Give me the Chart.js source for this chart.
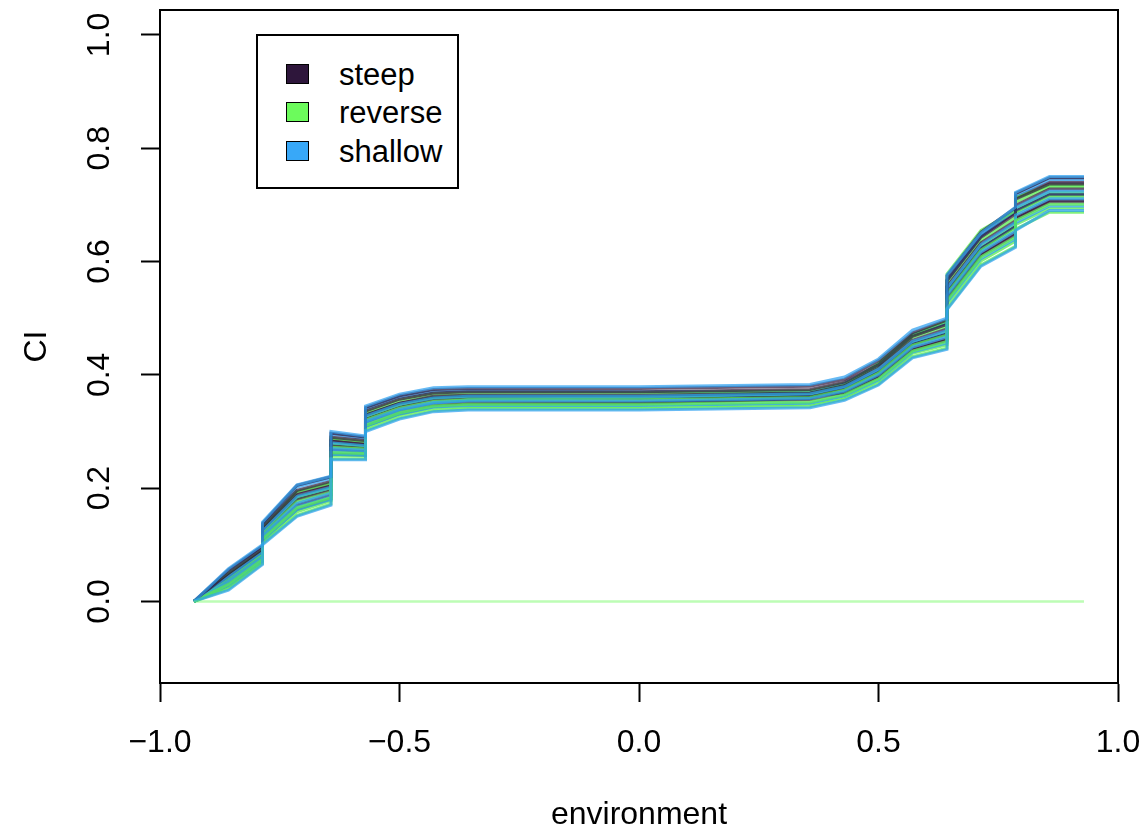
<!DOCTYPE html>
<html>
<head>
<meta charset="utf-8">
<script src="https://cdn.jsdelivr.net/npm/chart.js@4.4.1/dist/chart.umd.min.js"></script>
<style>
  html, body { margin: 0; padding: 0; background: #ffffff; }
  #wrap { position: relative; width: 1145px; height: 831px; }
  canvas { position: absolute; left: 0; top: 0; }
  #legend {
    position: absolute; left: 256px; top: 34px; width: 199px; height: 151px;
    border: 2px solid #000; background: #fff;
    font-family: "Liberation Sans", Arial, Helvetica, sans-serif; font-size: 31px; color: #000;
  }
  .row { position: absolute; left: 0; height: 38px; width: 100%; }
  .sw { position: absolute; left: 28px; top: 8px; width: 21px; height: 18px; border: 1.5px solid #000; }
  .lab { position: absolute; left: 81px; top: 0; line-height: 38px; }
</style>
</head>
<body>
<div id="wrap">
  <canvas id="c" width="1145" height="831"></canvas>
  <div id="legend"></div>
</div>
<script>
// ---- data ----
const envX = [-0.929, -0.857, -0.786, -0.786, -0.714, -0.643, -0.643, -0.571, -0.571, -0.500, -0.429, -0.357,
               0.000, 0.357, 0.429, 0.500, 0.571, 0.643, 0.643, 0.714, 0.786, 0.786, 0.857, 0.929];

const steep1 = [0, .056, .098, .138, .205, .220, .297, .290, .342, .363, .374, .376, .376, .380, .392, .425, .474, .497, .575, .652, .695, .720, .748, .748];
const steep2 = [0, .050, .093, .132, .196, .212, .290, .284, .336, .357, .368, .370, .370, .374, .387, .418, .468, .489, .566, .643, .684, .710, .737, .737];
const steep3 = [0, .045, .088, .126, .188, .204, .283, .277, .329, .350, .362, .364, .364, .368, .381, .412, .461, .481, .556, .633, .672, .699, .728, .728];
const steep4 = [0, .040, .083, .120, .180, .196, .275, .271, .322, .343, .356, .358, .358, .362, .375, .405, .454, .472, .547, .623, .662, .689, .718, .718];
const steep5 = [0, .034, .077, .114, .170, .188, .268, .265, .316, .337, .349, .352, .352, .356, .369, .398, .447, .464, .537, .614, .651, .678, .708, .708];
const steep6 = [0, .047, .090, .128, .192, .207, .285, .279, .330, .350, .360, .362, .361, .362, .368, .396, .444, .461, .534, .611, .647, .675, .705, .705];
const steep7 = [0, .028, .072, .108, .162, .181, .260, .258, .309, .331, .344, .348, .350, .358, .380, .419, .470, .492, .568, .645, .687, .713, .740, .740];

const reverse0 = [0, 0, 0, 0, 0, 0, 0, 0, 0, 0, 0, 0, 0, 0, 0, 0, 0, 0, 0, 0, 0, 0, 0, 0];
const reverse1 = [0, .022, .067, .102, .152, .172, .252, .252, .302, .324, .337, .340, .340, .344, .357, .384, .432, .447, .517, .594, .627, .657, .687, .687];
const reverse2 = [0, .030, .074, .110, .165, .183, .263, .261, .311, .333, .345, .348, .348, .352, .365, .393, .442, .459, .531, .608, .643, .672, .701, .701];
const reverse3 = [0, .037, .081, .118, .176, .193, .272, .269, .320, .341, .353, .356, .356, .360, .373, .403, .452, .470, .543, .620, .658, .685, .714, .714];
const reverse4 = [0, .043, .086, .124, .185, .201, .280, .275, .327, .348, .360, .362, .362, .367, .382, .420, .470, .495, .578, .655, .690, .712, .735, .735];
const reverse5 = [0, .049, .091, .130, .194, .209, .288, .282, .334, .355, .366, .368, .368, .372, .385, .415, .466, .486, .562, .638, .678, .705, .732, .732];
const reverse6 = [0, .026, .070, .106, .158, .178, .258, .257, .307, .329, .342, .344, .344, .348, .361, .389, .438, .453, .525, .601, .636, .665, .694, .694];
const reverse7 = [0, .041, .084, .122, .182, .199, .277, .273, .325, .346, .358, .360, .360, .364, .377, .408, .457, .476, .550, .627, .666, .693, .722, .722];

const shallow1 = [0, .058, .100, .140, .206, .221, .300, .292, .345, .366, .377, .379, .379, .383, .396, .428, .479, .500, .576, .650, .696, .722, .750, .750];
const shallow2 = [0, .020, .065, .100, .150, .170, .250, .250, .300, .322, .335, .338, .338, .342, .355, .382, .430, .445, .515, .592, .625, .655, .690, .690];
const shallow3 = [0, .036, .079, .116, .173, .191, .270, .267, .318, .339, .351, .354, .354, .358, .371, .400, .449, .467, .540, .617, .654, .682, .711, .711];
const shallow4 = [0, .043, .086, .124, .185, .201, .280, .275, .327, .348, .359, .362, .362, .366, .379, .410, .459, .478, .553, .630, .669, .695, .724, .724];
const shallow5 = [0, .031, .075, .112, .167, .185, .265, .263, .314, .336, .350, .356, .360, .368, .384, .419, .471, .492, .568, .645, .690, .716, .745, .745];
const shallow6 = [0, .028, .072, .108, .162, .180, .260, .258, .309, .331, .343, .346, .346, .350, .363, .391, .440, .456, .528, .605, .640, .668, .698, .698];
const shallow7 = [0, .054, .097, .136, .202, .217, .295, .288, .340, .361, .371, .372, .370, .370, .378, .406, .455, .473, .547, .623, .662, .689, .718, .718];

const groupNames = ["steep", "reverse", "shallow"];
const xTicks = [-1.0, -0.5, 0.0, 0.5, 1.0];
const yTicks = [0.0, 0.2, 0.4, 0.6, 0.8, 1.0];

// ---- styling ----
const solid = { steep: "#2E163B", reverse: "#6CFB5C", shallow: "#38A8F8" };
const lineCol = {
  steep: "rgba(46,22,59,0.7)",
  reverse: "rgba(90,235,80,0.75)",
  shallow: "rgba(45,160,240,0.72)"
};
const FONT = "'Liberation Sans', Arial, Helvetica, sans-serif";

function mk(group, ys) {
  const zero = ys === reverse0;
  return {
    label: group,
    data: envX.map((x, i) => ({ x: x, y: ys[i] })),
    borderColor: zero ? "rgba(108,251,92,0.45)" : lineCol[group],
    borderWidth: zero ? 2.5 : 3,
    pointRadius: 0,
    showLine: true,
    fill: false,
    tension: 0
  };
}

const order = [
  ["reverse", reverse0],
  ["shallow", shallow1], ["shallow", shallow2], ["reverse", reverse1], ["steep", steep1],
  ["reverse", reverse2], ["shallow", shallow3], ["steep", steep2], ["reverse", reverse3],
  ["shallow", shallow4], ["steep", steep3], ["reverse", reverse4], ["shallow", shallow5],
  ["steep", steep4], ["reverse", reverse5], ["shallow", shallow6], ["steep", steep5],
  ["reverse", reverse6], ["shallow", shallow7], ["steep", steep6], ["reverse", reverse7],
  ["steep", steep7]
];
const datasets = order.map(([g, ys]) => mk(g, ys));

const frame = {
  id: "frame",
  afterDraw(chart) {
    const a = chart.chartArea, ctx = chart.ctx;
    ctx.save();
    ctx.strokeStyle = "#000";
    ctx.lineWidth = 2;
    ctx.strokeRect(a.left, a.top, a.right - a.left, a.bottom - a.top);
    ctx.restore();
  }
};

const fmt = v => (v < 0 ? "\u2212" : "") + Math.abs(v).toFixed(1);

new Chart(document.getElementById("c"), {
  type: "scatter",
  data: { datasets },
  options: {
    responsive: false,
    animation: false,
    events: [],
    layout: { padding: { top: 10, right: 27, left: 0, bottom: 0 } },
    plugins: { legend: { display: false }, tooltip: { enabled: false } },
    scales: {
      x: {
        type: "linear", min: -1, max: 1,
        afterBuildTicks: s => { s.ticks = xTicks.map(v => ({ value: v })); },
        afterFit: s => { s.height = 148; s.paddingLeft = 0; s.paddingRight = 0; },
        grid: { drawOnChartArea: false, drawTicks: true, tickLength: 19, tickColor: "#000", tickWidth: 2 },
        border: { display: true, color: "#000", width: 2 },
        ticks: { callback: fmt, color: "#000", padding: 22, maxRotation: 0, font: { family: FONT, size: 32 } },
        title: { display: true, text: "environment", color: "#000", padding: { top: 0, bottom: 0 }, font: { family: FONT, size: 32, lineHeight: 1.0 } }
      },
      y: {
        type: "linear", min: -0.144, max: 1.044,
        afterBuildTicks: s => { s.ticks = yTicks.map(v => ({ value: v })); },
        afterFit: s => { s.width = 160; s.paddingTop = 0; s.paddingBottom = 0; },
        grid: { drawOnChartArea: false, drawTicks: true, tickLength: 19, tickColor: "#000", tickWidth: 2 },
        border: { display: true, color: "#000", width: 2 },
        ticks: { callback: fmt, color: "#000", padding: 19, minRotation: 90, maxRotation: 90, crossAlign: "center", font: { family: FONT, size: 32 } },
        title: { display: true, text: "CI", color: "#000", padding: { top: 18, bottom: 0 }, font: { family: FONT, size: 32 } }
      }
    }
  },
  plugins: [frame]
});

// legend (HTML, built from the group names)
const leg = document.getElementById("legend");
groupNames.forEach((g, i) => {
  const r = document.createElement("div");
  r.className = "row";
  r.style.top = (20 + i * 38.4) + "px";
  const sw = document.createElement("div");
  sw.className = "sw";
  sw.style.background = solid[g];
  const t = document.createElement("div");
  t.className = "lab";
  t.textContent = g;
  r.appendChild(sw); r.appendChild(t);
  leg.appendChild(r);
});
</script>
</body>
</html>
